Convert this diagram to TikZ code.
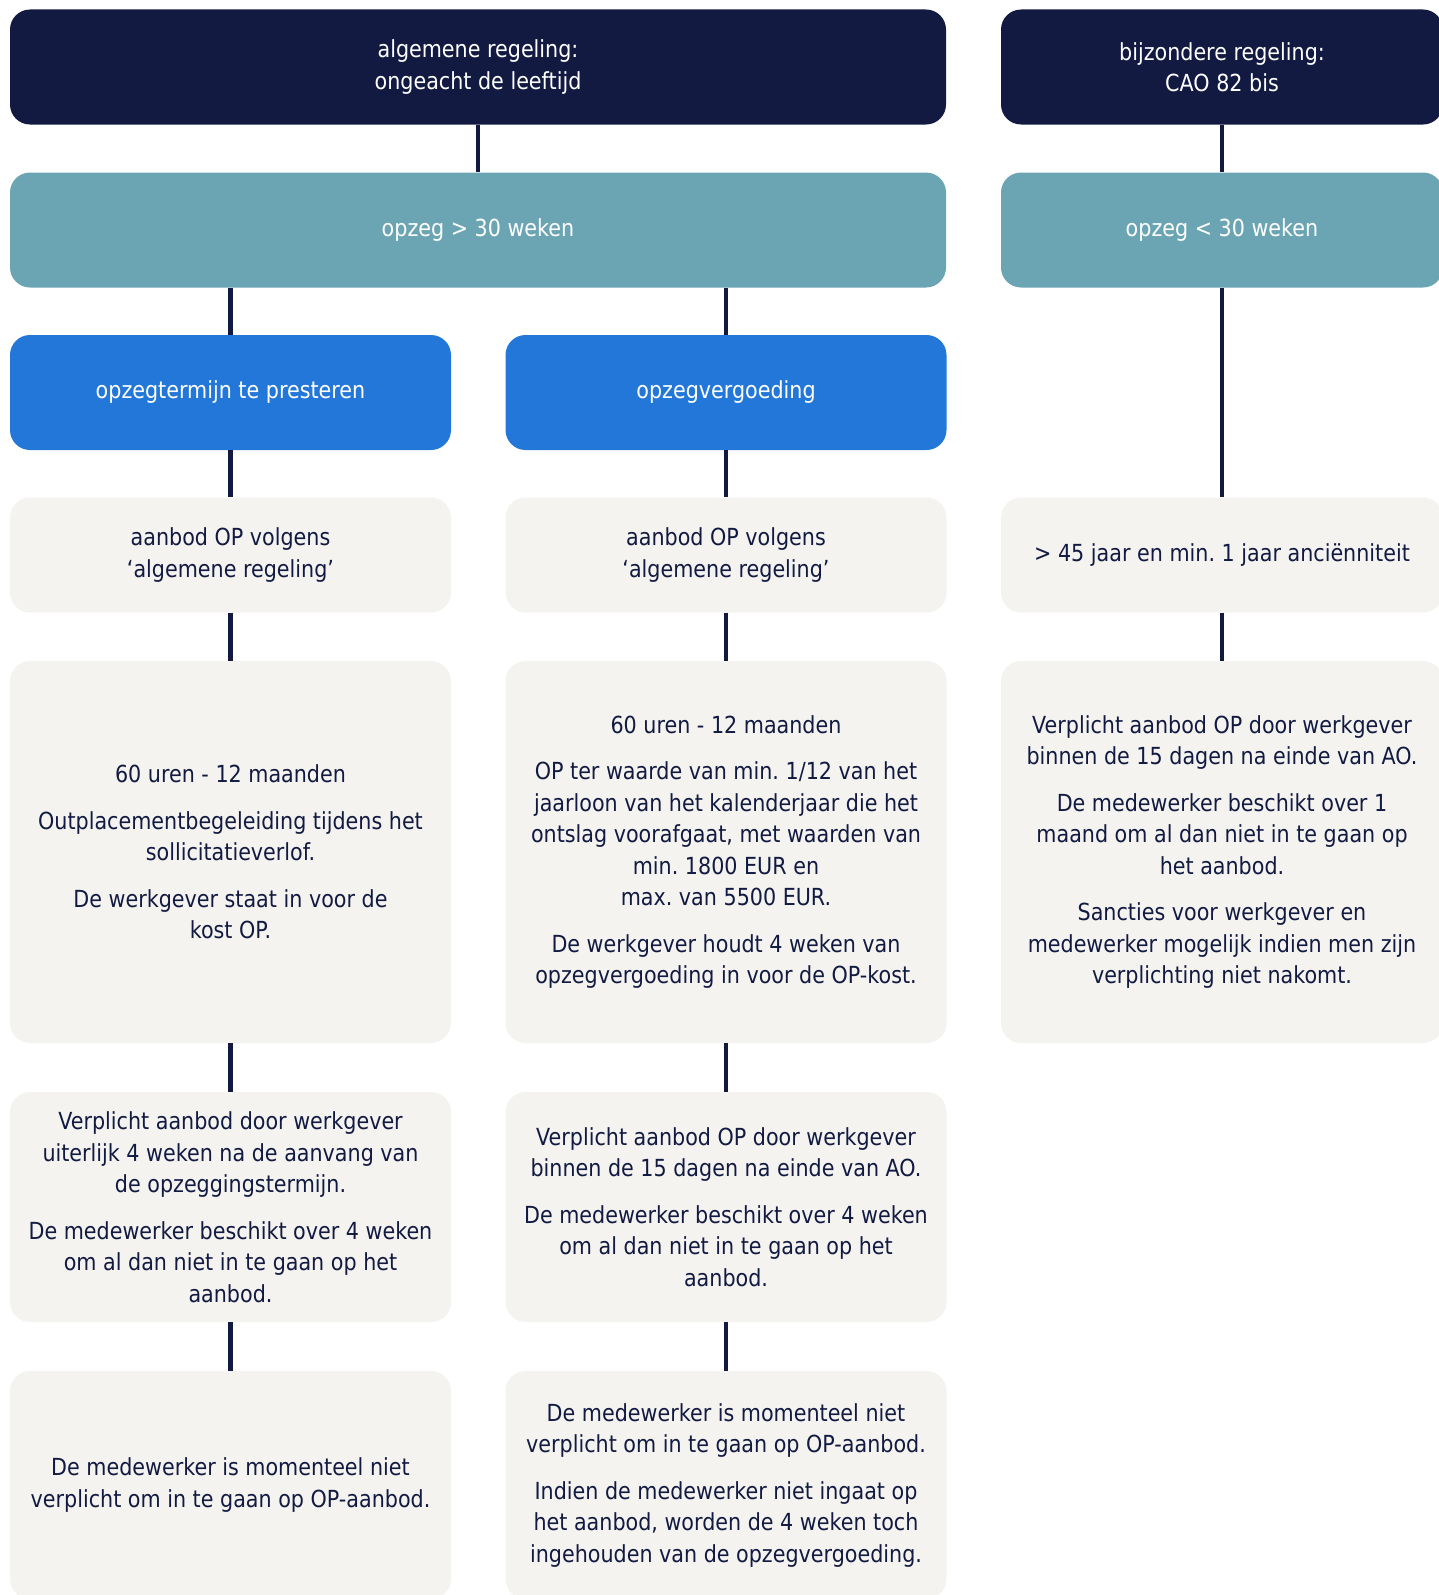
\documentclass[tikz,border=0pt]{standalone}
\usepackage{fontspec}
\setmainfont{DejaVu Sans}[FakeStretch=0.88]
\usepackage{tikz}
\usetikzlibrary{calc}
\definecolor{RegelNavy}{HTML}{121A42}
\definecolor{RegelTeal}{HTML}{6BA5B3}
\definecolor{RegelBlue}{HTML}{2277D9}
\definecolor{RegelGrey}{HTML}{F4F3EF}
\frenchspacing

\begin{document}
\begin{tikzpicture}[x=1pt,y=-1pt,
    box/.style={rounded corners=20pt,minimum height=115pt,inner sep=0pt,
        align=center,font=\fontsize{23.5}{31.5}\selectfont},
    kop/.style={box,fill=RegelNavy,text=white},
    opzeg/.style={box,fill=RegelTeal,text=white},
    keuze/.style={box,fill=RegelBlue,text=white,minimum width=441pt},
    info/.style={box,fill=RegelGrey,text=RegelNavy,minimum width=441pt},
    lijn/.style={draw=RegelNavy,line width=4.5pt}]
    \path[use as bounding box,clip] (0,0) rectangle (1439,1595);

    % bovenste rijen
    \node[kop,minimum width=936pt] (algem) at (478,67) {algemene regeling:\\ongeacht de leeftijd};
    \node[kop,minimum width=442pt] (bijz) at (1222,67) {bijzondere regeling:\\CAO 82 bis};
    \node[opzeg,minimum width=936pt] (opzegA) at (478,230) {opzeg > 30 weken};
    \node[opzeg,minimum width=442pt] (opzegB) at (1222,230) {opzeg < 30 weken};
    \node[keuze] (termijn) at (230.5,392.5) {opzegtermijn te presteren};
    \node[keuze] (vergoed) at (726,392.5) {opzegvergoeding};

    % aanbod
    \node[info] (aanbodA) at (230.5,555) {aanbod OP volgens\\‘algemene regeling’};
    \node[info] (aanbodB) at (726,555) {aanbod OP volgens\\‘algemene regeling’};
    \node[info,minimum width=442pt] (leeftijd) at (1222,555) {> 45 jaar en min. 1 jaar anciënniteit};

    % details
    \node[info,minimum height=382pt] (duurA) at (230.5,852) {60 uren - 12 maanden\\[15pt]
        Outplacementbegeleiding tijdens het\\sollicitatieverlof.\\[15pt]
        De werkgever staat in voor de\\kost OP.};
    \node[info,minimum height=382pt] (duurB) at (726,852) {60 uren - 12 maanden\\[15pt]
        OP ter waarde van min. 1/12 van het\\jaarloon van het kalenderjaar die het\\ontslag voorafgaat, met waarden van\\min. 1800 EUR en\\max. van 5500 EUR.\\[15pt]
        De werkgever houdt 4 weken van\\opzegvergoeding in voor de OP-kost.};
    \node[info,minimum width=442pt,minimum height=382pt] (plicht) at (1222,852) {Verplicht aanbod OP door werkgever\\binnen de 15 dagen na einde van AO.\\[15pt]
        De medewerker beschikt over 1\\maand om al dan niet in te gaan op\\het aanbod.\\[15pt]
        Sancties voor werkgever en\\medewerker mogelijk indien men zijn\\verplichting niet nakomt.};

    \node[info,minimum height=230pt] (termA) at (230.5,1207) {Verplicht aanbod door werkgever\\uiterlijk 4 weken na de aanvang van\\de opzeggingstermijn.\\[15pt]
        De medewerker beschikt over 4 weken\\om al dan niet in te gaan op het\\aanbod.};
    \node[info,minimum height=230pt] (termB) at (726,1207) {Verplicht aanbod OP door werkgever\\binnen de 15 dagen na einde van AO.\\[15pt]
        De medewerker beschikt over 4 weken\\om al dan niet in te gaan op het\\aanbod.};

    \node[info,minimum height=228pt] (nuA) at (230.5,1485) {De medewerker is momenteel niet\\verplicht om in te gaan op OP-aanbod.};
    \node[info,minimum height=228pt] (nuB) at (726,1485) {De medewerker is momenteel niet\\verplicht om in te gaan op OP-aanbod.\\[15pt]
        Indien de medewerker niet ingaat op\\het aanbod, worden de 4 weken toch\\ingehouden van de opzegvergoeding.};

    % verbindingen
    \draw[lijn] (algem) -- (opzegA);
    \draw[lijn] (bijz) -- (opzegB);
    \draw[lijn] (opzegA.south -| termijn) -- (termijn.north);
    \draw[lijn] (opzegA.south -| vergoed) -- (vergoed.north);
    \draw[lijn] (opzegB) -- (leeftijd);
    \draw[lijn] (termijn) -- (aanbodA);
    \draw[lijn] (vergoed) -- (aanbodB);
    \draw[lijn] (aanbodA) -- (duurA);
    \draw[lijn] (aanbodB) -- (duurB);
    \draw[lijn] (leeftijd) -- (plicht);
    \draw[lijn] (duurA) -- (termA);
    \draw[lijn] (duurB) -- (termB);
    \draw[lijn] (termA) -- (nuA);
    \draw[lijn] (termB) -- (nuB);
\end{tikzpicture}
\end{document}
